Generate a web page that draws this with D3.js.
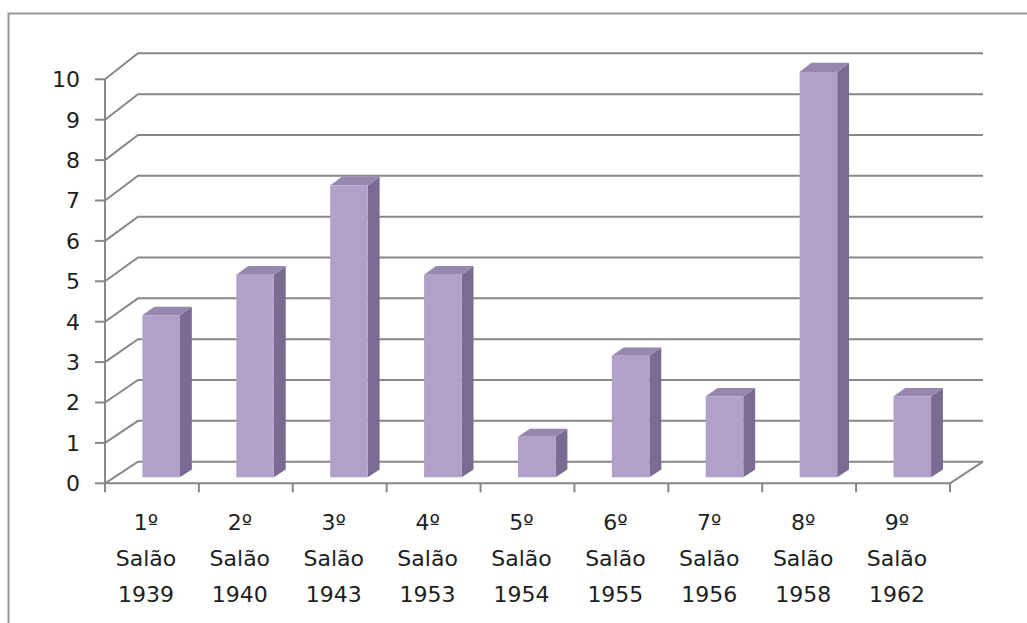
<!DOCTYPE html>
<html lang="pt">
<head>
  <meta charset="UTF-8" />
  <title>Salões</title>
  <style>
    body { margin: 0; background: #fff; }
    svg { display: block; }
    text { font-family: "DejaVu Sans", Verdana, sans-serif; fill: #1e1e1e; }
  </style>
</head>
<body>
  <svg width="1027" height="623"></svg>
  <script src="https://cdnjs.cloudflare.com/ajax/libs/d3/7.8.5/d3.min.js"></script>
  <script>
    // data
    const ordinals = ["1º", "2º", "3º", "4º", "5º", "6º", "7º", "8º", "9º"];
    const years = ["1939", "1940", "1943", "1953", "1954", "1955", "1956", "1958", "1962"];
    const values = [4, 5, 7.2, 5, 1, 3, 2, 10, 2];
    const yTicks = [0, 1, 2, 3, 4, 5, 6, 7, 8, 9, 10];

    const svg = d3.select("svg");

    // outer chart frame (right and bottom edges fall outside the crop)
    svg.append("rect")
      .attr("x", 8.5).attr("y", 13.5)
      .attr("width", 1040).attr("height", 640)
      .attr("fill", "none").attr("stroke", "#999").attr("stroke-width", 2);

    // 3D projection: front plane and back wall scales, depth offset in x
    const x0 = 105, x1 = 950, DX = 33;
    const yF = d3.scaleLinear().domain([0, 10]).range([483.3, 79.3]);
    const yB = d3.scaleLinear().domain([0, 10]).range([461.7, 53.3]);
    const proj = (x, v, z) => [x + z * DX, yF(v) * (1 - z) + yB(v) * z];

    const xBand = d3.scaleBand().domain(d3.range(values.length))
      .range([x0, x1]).paddingInner(0.6).paddingOuter(0.3);
    const step = (x1 - x0) / values.length;

    const gridColor = "#888";
    const grid = svg.append("g").attr("fill", "none")
      .attr("stroke", gridColor).attr("stroke-width", 2);

    // back wall + side wall gridlines
    yTicks.forEach(v => {
      const a = proj(x0, v, 0), b = proj(x0, v, 1), c = proj(x1, v, 1);
      grid.append("polyline").attr("points", [a, b, c].map(p => p.join(",")).join(" "));
    });
    // floor right edge
    grid.append("polyline")
      .attr("points", [proj(x1, 0, 0), proj(x1, 0, 1)].map(p => p.join(",")).join(" "));

    // bars
    const z0 = 0.28, z1 = 0.64;
    const colors = { front: "#b1a1c9", side: "#7a6b93", top: "#9587ae" };
    const bars = svg.append("g").selectAll("g").data(values).join("g");
    const pts = arr => arr.map(p => p.join(",")).join(" ");

    bars.append("polygon")
      .attr("fill", colors.side)
      .attr("points", (d, i) => {
        const xr = xBand(i) + xBand.bandwidth();
        return pts([proj(xr, 0, z0), proj(xr, d, z0), proj(xr, d, z1), proj(xr, 0, z1)]);
      });
    bars.append("polygon")
      .attr("fill", colors.top)
      .attr("points", (d, i) => {
        const xl = xBand(i), xr = xl + xBand.bandwidth();
        return pts([proj(xl, d, z0), proj(xr, d, z0), proj(xr, d, z1), proj(xl, d, z1)]);
      });
    bars.append("polygon")
      .attr("fill", colors.front)
      .attr("points", (d, i) => {
        const xl = xBand(i), xr = xl + xBand.bandwidth();
        return pts([proj(xl, 0, z0), proj(xr, 0, z0), proj(xr, d, z0), proj(xl, d, z0)]);
      });

    // front axes
    const axes = svg.append("g").attr("stroke", gridColor).attr("stroke-width", 2);
    axes.append("line").attr("x1", x0).attr("x2", x0).attr("y1", yF(10)).attr("y2", yF(0));
    axes.append("line").attr("x1", x0).attr("x2", x1).attr("y1", yF(0)).attr("y2", yF(0));
    yTicks.forEach(v => {
      axes.append("line").attr("x1", x0 - 10).attr("x2", x0).attr("y1", yF(v)).attr("y2", yF(v));
    });
    d3.range(values.length + 1).forEach(i => {
      axes.append("line").attr("x1", x0 + i * step).attr("x2", x0 + i * step)
        .attr("y1", yF(0)).attr("y2", yF(0) + 9);
    });

    // y tick labels
    svg.append("g").selectAll("text").data(yTicks).join("text")
      .attr("x", 80).attr("y", d => yF(d)).attr("dy", "0.36em")
      .attr("text-anchor", "end").attr("font-size", 22)
      .text(d => d);

    // category labels
    const cat = svg.append("g").selectAll("text").data(values).join("text")
      .attr("text-anchor", "middle").attr("font-size", 22);
    cat.each(function(d, i) {
      const cx = x0 + (i + 0.5) * step - 6;
      const t = d3.select(this);
      [ordinals[i], "Salão", years[i]].forEach((s, k) => {
        t.append("tspan").attr("x", cx).attr("y", 530 + k * 36).text(s);
      });
    });
  </script>
</body>
</html>
